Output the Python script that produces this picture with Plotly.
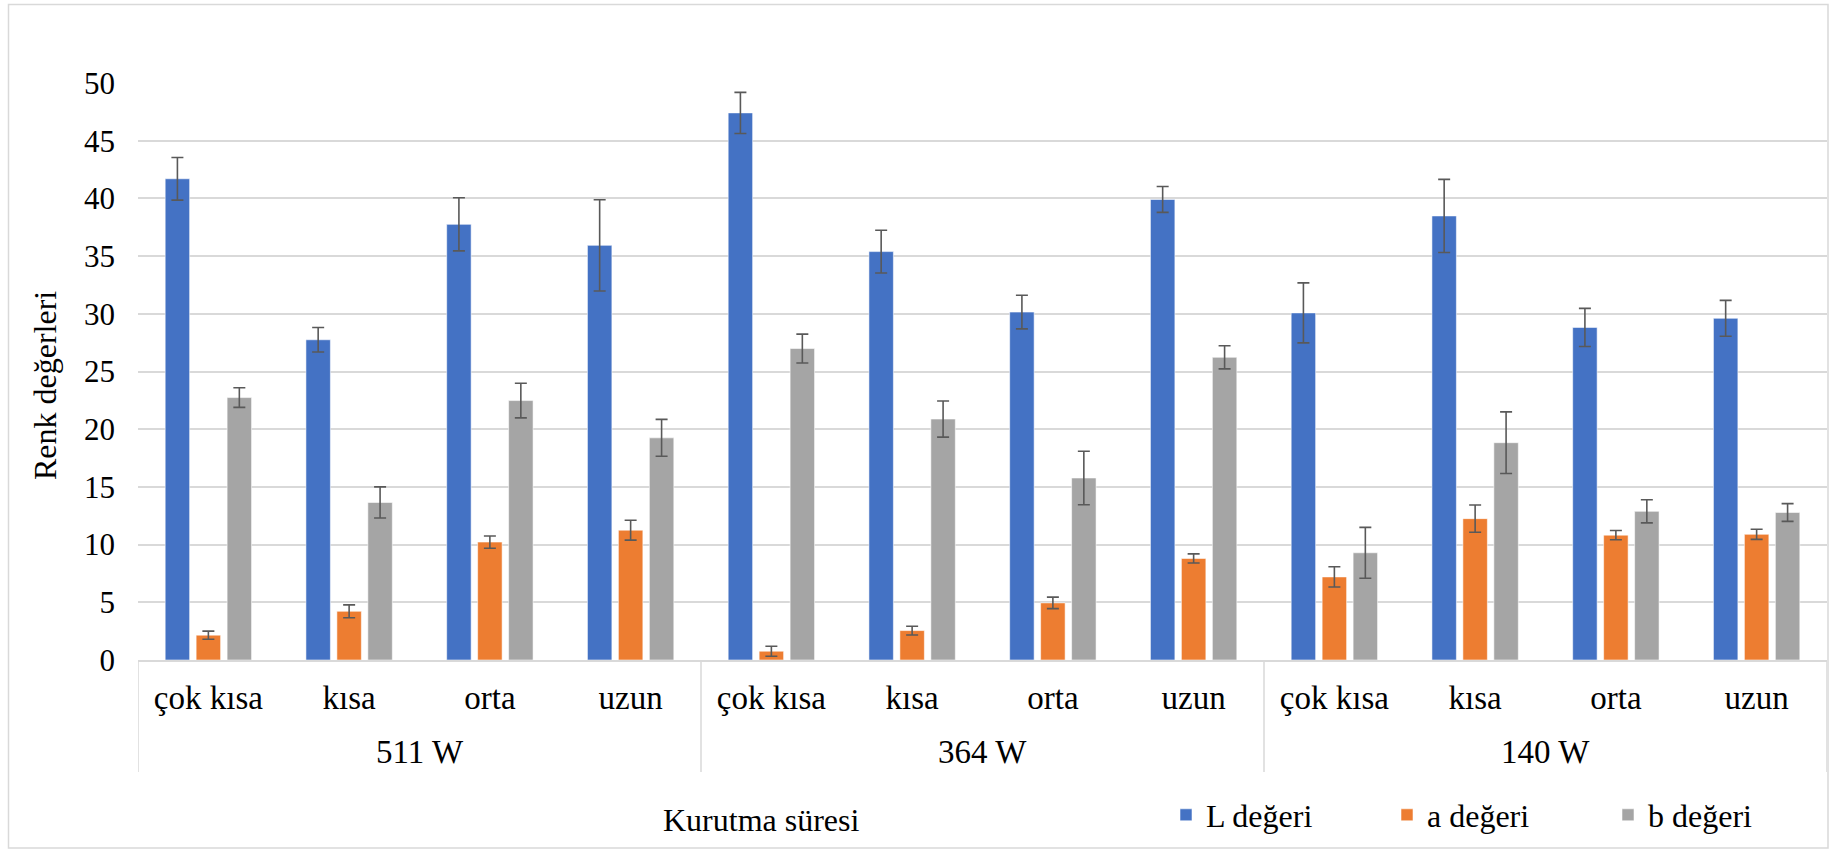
import plotly.graph_objects as go

groups = ["511 W", "364 W", "140 W"]
times = ["çok kısa", "kısa", "orta", "uzun"]

L_vals = [41.70, 27.75, 37.75, 35.93, 47.41, 35.39, 30.15, 39.91, 30.08, 38.48, 28.82, 29.61]
L_err = [1.85, 1.06, 2.30, 3.95, 1.78, 1.85, 1.46, 1.12, 2.60, 3.17, 1.65, 1.55]
a_vals = [2.15, 4.22, 10.22, 11.25, 0.76, 2.55, 4.95, 8.80, 7.20, 12.25, 10.82, 10.89]
a_err = [0.35, 0.56, 0.53, 0.86, 0.43, 0.38, 0.50, 0.40, 0.88, 1.18, 0.40, 0.44]
b_vals = [22.74, 13.65, 22.48, 19.25, 26.99, 20.88, 15.77, 26.23, 9.29, 18.83, 12.88, 12.78]
b_err = [0.85, 1.35, 1.50, 1.60, 1.25, 1.57, 2.32, 1.00, 2.20, 2.67, 1.00, 0.77]

series_names = ["L değeri", "a değeri", "b değeri"]
colors = ["#4472C4", "#ED7D31", "#A5A5A5"]

# unique category keys (group + time); only the time is shown as the tick label
cat_keys = [f"{g} | {t}" for g in groups for t in times]
cat_text = [t for _ in groups for t in times]

FONT = "Liberation Serif"
W, H = 1829, 851
L_M, R_M, T_M, B_M = 138, 2, 83, 191
PW = W - L_M - R_M
PH = H - T_M - B_M
GRID = "#d9d9d9"


def px_x(px):
    return (px - L_M) / PW


def px_y(py):
    return (H - B_M - py) / PH


fig = go.Figure()
for name, vals, errs, col in zip(series_names, [L_vals, a_vals, b_vals], [L_err, a_err, b_err], colors):
    fig.add_trace(go.Bar(
        x=cat_keys, y=vals, name=name,
        marker=dict(color=col, line=dict(color="rgba(255,255,255,0.55)", width=1)),
        error_y=dict(type="data", array=errs, visible=True, color="#595959", thickness=1.6, width=6),
    ))

n_t = len(times)
annotations = [
    dict(text="Renk değerleri", xref="paper", yref="paper", x=px_x(45), y=px_y(386),
         textangle=-90, showarrow=False, xanchor="center", yanchor="middle",
         font=dict(family=FONT, size=32, color="black")),
    dict(text="Kurutma süresi", xref="paper", yref="paper", x=px_x(761), y=px_y(820),
         showarrow=False, xanchor="center", yanchor="middle",
         font=dict(family=FONT, size=32, color="black")),
]
for gi, g in enumerate(groups):
    annotations.append(dict(text=g, xref="x", yref="paper", x=gi * n_t + (n_t - 1) / 2, y=px_y(752),
                            showarrow=False, xanchor="center", yanchor="middle",
                            font=dict(family=FONT, size=33, color="black")))

shapes = [dict(type="rect", xref="paper", yref="paper",
               x0=px_x(8.5), x1=px_x(1828), y0=px_y(848), y1=px_y(4.5),
               line=dict(color=GRID, width=1.5), fillcolor="rgba(0,0,0,0)", layer="below")]
for gi in range(len(groups) + 1):
    shapes.append(dict(type="line", xref="x", yref="paper", x0=gi * n_t - 0.5, x1=gi * n_t - 0.5,
                       y0=0, y1=px_y(772), line=dict(color=GRID, width=1.5)))

fig.update_layout(
    width=W, height=H,
    margin=dict(l=L_M, r=R_M, t=T_M, b=B_M, autoexpand=False),
    paper_bgcolor="white", plot_bgcolor="white",
    font=dict(family=FONT, size=33, color="black"),
    barmode="group", bargap=0.34, bargroupgap=0.21,
    showlegend=True,
    legend=dict(orientation="h", x=px_x(1166), y=px_y(815), xanchor="left", yanchor="middle",
                font=dict(family=FONT, size=32, color="black"),
                entrywidth=176, entrywidthmode="pixels", bgcolor="rgba(0,0,0,0)"),
    xaxis=dict(type="category", tickmode="array", tickvals=cat_keys, ticktext=cat_text,
               showline=True, linecolor=GRID, linewidth=1.5, ticks="", showgrid=False,
               ticklabelstandoff=8, range=[-0.5, len(cat_keys) - 0.5],
               tickfont=dict(family=FONT, size=33, color="black")),
    yaxis=dict(range=[0, 50], dtick=5, showgrid=True, gridcolor=GRID, gridwidth=1.5,
               zeroline=False, ticks="", ticklabelstandoff=22,
               tickfont=dict(family=FONT, size=31, color="black")),
    annotations=annotations,
    shapes=shapes,
)

fig.write_html("out.html", config={"displayModeBar": False},
               post_script="document.body.style.margin='0';document.body.style.overflow='hidden';")
